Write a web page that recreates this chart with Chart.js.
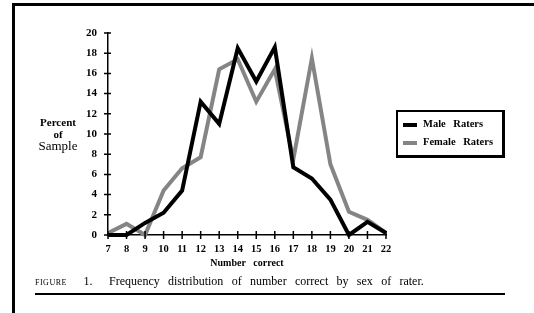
<!DOCTYPE html>
<html>
<head>
<meta charset="utf-8">
<script src="https://cdn.jsdelivr.net/npm/chart.js@4/dist/chart.umd.min.js"></script>
<style>
  body { margin: 0; background: #fff; font-family: "Liberation Serif", serif; }
  #wrap { position: relative; width: 534px; height: 313px; overflow: hidden; }
  #frame { position: absolute; left: 12px; top: 3px; width: 530px; height: 320px;
           border-left: 3px solid #000; border-top: 3px solid #000; }
  #ytitle { position: absolute; left: 30px; top: 116px; width: 56px; text-align: center;
            font-size: 11px; line-height: 12px; }
  #ytitle b { font-weight: bold; }
  #legend { position: absolute; left: 396px; top: 110px; width: 104px; height: 43px;
            border: 2px solid #000; border-right-width: 3px; border-bottom-width: 3px;
            font-size: 10.5px; font-weight: bold; }
  .item { position: absolute; left: 5px; height: 12px; white-space: nowrap; word-spacing: 5px; }
  .swatch { display: inline-block; width: 14px; height: 4px; vertical-align: middle; margin-right: 6px; }
  #caption { position: absolute; left: 35px; top: 274px; font-size: 12px; word-spacing: 5.3px; white-space: nowrap; }
  #caption .sc { font-size: 8px; letter-spacing: 0.5px; }
  #rule { position: absolute; left: 35px; top: 293px; width: 470px; height: 2px; background: #000; }
  canvas { position: absolute; left: 0; top: 0; }
</style>
</head>
<body>
<div id="wrap">
  <div id="frame"></div>
  <canvas id="freqChart" width="534" height="313"></canvas>
  <div id="ytitle"><b>Percent<br>of</b><br><span style="font-size:13px">Sample</span></div>
  <div id="legend"></div>
  <div id="caption"><span class="sc">FIGURE</span>&nbsp; 1.&nbsp; Frequency distribution of number correct by sex of rater.</div>
  <div id="rule"></div>
</div>
<script>
  const numberCorrect = ['7', '8', '9', '10', '11', '12', '13', '14', '15', '16', '17', '18', '19', '20', '21', '22'];
  const maleRaters = [0, 0, 1.2, 2.2, 4.4, 13.2, 11, 18.5, 15.2, 18.6, 6.7, 5.6, 3.5, 0, 1.3, 0.2];
  const femaleRaters = [0.2, 1.1, 0, 4.4, 6.6, 7.7, 16.4, 17.4, 13.2, 16.4, 7.5, 17.5, 7, 2.3, 1.5, 0.2];
  const yTicks = [0, 2, 4, 6, 8, 10, 12, 14, 16, 18, 20];

  // ticks that cross the axis line on both sides
  const crossTicks = {
    id: 'crossTicks',
    afterDraw(chart) {
      const ctx = chart.ctx;
      const area = chart.chartArea;
      const xs = chart.scales.x, ys = chart.scales.y;
      ctx.save();
      ctx.strokeStyle = '#000';
      ctx.lineWidth = 1.5;
      ctx.beginPath();
      ys.ticks.forEach(function (t, i) {
        const y = ys.getPixelForTick(i);
        ctx.moveTo(area.left - 4, y);
        ctx.lineTo(area.left + 3, y);
      });
      xs.ticks.forEach(function (t, i) {
        const x = xs.getPixelForTick(i);
        ctx.moveTo(x, area.bottom - 4);
        ctx.lineTo(x, area.bottom + 4);
      });
      ctx.stroke();
      ctx.restore();
    }
  };

  const chart = new Chart(document.getElementById('freqChart'), {
    type: 'line',
    data: {
      labels: numberCorrect,
      datasets: [
        {
          label: 'Male Raters',
          data: maleRaters,
          borderColor: '#000',
          borderWidth: 4,
          pointRadius: 0,
          tension: 0,
          clip: false
        },
        {
          label: 'Female Raters',
          data: femaleRaters,
          borderColor: '#858585',
          borderWidth: 4,
          pointRadius: 0,
          tension: 0,
          clip: false
        }
      ]
    },
    options: {
      responsive: false,
      animation: false,
      layout: { padding: { left: 0, right: 148, top: 33, bottom: 44 } },
      plugins: { legend: { display: false }, tooltip: { enabled: false } },
      scales: {
        x: {
          offset: false,
          grid: { display: false },
          border: { color: '#000', width: 1.5 },
          ticks: { color: '#000', padding: 0, maxRotation: 0,
                   font: { family: 'Liberation Serif', size: 10.5, weight: 'bold' } },
          title: { display: true, text: 'Number   correct', color: '#000', padding: { top: 0, bottom: 0 },
                   font: { family: 'Liberation Serif', size: 10, weight: 'bold' } },
          afterFit: function (s) { s.height = 34; }
        },
        y: {
          min: 0,
          max: 20,
          afterBuildTicks: function (s) { s.ticks = yTicks.map(function (v) { return { value: v }; }); },
          grid: { display: false },
          border: { color: '#000', width: 1.5 },
          ticks: { color: '#000', padding: 3,
                   font: { family: 'Liberation Serif', size: 11, weight: 'bold' } },
          afterFit: function (s) { s.width = 108; }
        }
      }
    },
    plugins: [crossTicks]
  });

  // legend box built from the datasets
  const legend = document.getElementById('legend');
  chart.data.datasets.forEach(function (ds, i) {
    const item = document.createElement('div');
    item.className = 'item';
    item.style.top = (6 + i * 18) + 'px';
    item.innerHTML = '<span class="swatch" style="background:' + ds.borderColor + '"></span>' + ds.label;
    legend.appendChild(item);
  });
</script>
</body>
</html>
